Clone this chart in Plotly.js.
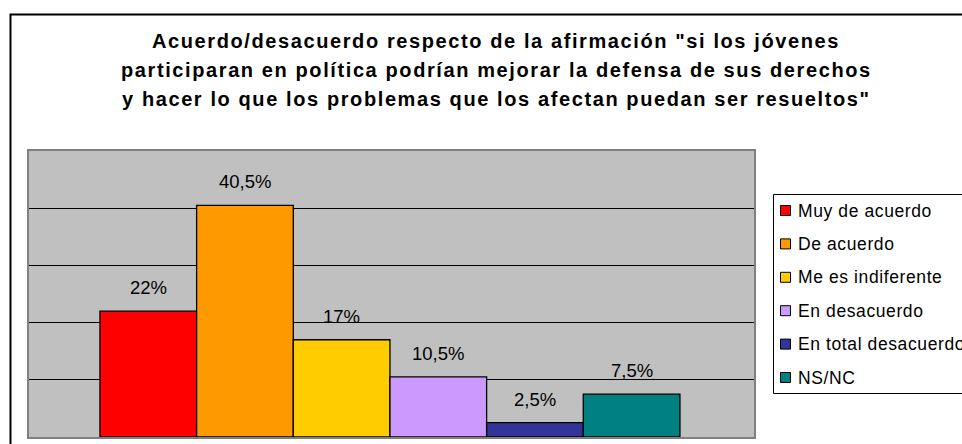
<!DOCTYPE html>
<html>
<head>
<meta charset="utf-8">
<script src="https://cdn.plot.ly/plotly-3.0.1.min.js"></script>
<style>
  html, body { margin: 0; padding: 0; overflow: hidden; background: #ffffff; }
</style>
</head>
<body>
<div id="chart" style="width:962px;height:444px"></div>
<script>
// Survey answers and their shares (%)
const titleLines = [
  'Acuerdo/desacuerdo respecto de la afirmación "si los jóvenes',
  'participaran en política podrían mejorar la defensa de sus derechos',
  'y hacer lo que los problemas que los afectan puedan ser resueltos"'
];
const categories = ['Muy de acuerdo', 'De acuerdo', 'Me es indiferente', 'En desacuerdo', 'En total desacuerdo', 'NS/NC'];
const percentages = [22, 40.5, 17, 10.5, 2.5, 7.5];
const barColors = ['#FF0000', '#FF9900', '#FFCC00', '#CC99FF', '#333399', '#008080'];
const gridValues = [10, 20, 30, 40];

// Page geometry
const FONT = 'Liberation Sans, Arial, sans-serif';
const W = 962, H = 444;
const M = { l: 29, r: 208, t: 151, b: 7 };
const plotW = W - M.l - M.r, plotH = H - M.t - M.b;
const px = x => (x - M.l) / plotW;          // pixel x -> paper x
const py = y => 1 - (y - M.t) / plotH;      // pixel y -> paper y

const fmtPct = v => String(v).replace('.', ',') + '%';

const annotations = [];
const shapes = [];

// Three-line bold heading
const titleY = [40.8, 69.8, 99.1];
titleLines.forEach((line, i) => {
  annotations.push({
    xref: 'paper', yref: 'paper', x: px(496), y: py(titleY[i]),
    xanchor: 'center', yanchor: 'middle', showarrow: false,
    text: '<span style="letter-spacing:1.6px"><b>' + line + '</b></span>',
    font: { family: FONT, size: 20, color: '#000000' }
  });
});

// Value labels above each bar
categories.forEach((c, i) => {
  annotations.push({
    xref: 'x', yref: 'y', x: c, y: percentages[i],
    yshift: 23.5, xanchor: 'center', yanchor: 'middle', showarrow: false,
    text: fmtPct(percentages[i]),
    font: { family: FONT, size: 18.5, color: '#000000' }
  });
});

// Outer chart frame
shapes.push({
  type: 'rect', xref: 'paper', yref: 'paper',
  x0: px(10.5), x1: px(1400), y0: py(14.5), y1: py(900),
  line: { color: '#000000', width: 2 }, fillcolor: 'rgba(0,0,0,0)', layer: 'above'
});

// Legend box with colour keys
const legendTop = 194.5, legendBottom = 393.5;
shapes.push({
  type: 'rect', xref: 'paper', yref: 'paper',
  x0: px(773.5), x1: px(1400), y0: py(legendTop), y1: py(legendBottom),
  line: { color: '#000000', width: 1 }, fillcolor: '#ffffff', layer: 'above'
});
categories.forEach((c, i) => {
  const cy = 210.5 + 33.4 * i;
  shapes.push({
    type: 'rect', xref: 'paper', yref: 'paper',
    x0: px(780.5), x1: px(790.5), y0: py(cy - 5), y1: py(cy + 5),
    line: { color: '#000000', width: 1 }, fillcolor: barColors[i], layer: 'above'
  });
  annotations.push({
    xref: 'paper', yref: 'paper', x: px(796), y: py(cy),
    xanchor: 'left', yanchor: 'middle', showarrow: false,
    text: '<span style="letter-spacing:0.6px">' + c + '</span>',
    font: { family: FONT, size: 17.5, color: '#000000' }
  });
});

const trace = {
  type: 'bar',
  x: categories,
  y: percentages,
  width: 1,
  marker: { color: barColors, line: { color: '#000000', width: 1.3 } },
  hoverinfo: 'none',
  showlegend: false
};

const layout = {
  width: W, height: H,
  margin: M,
  paper_bgcolor: '#ffffff',
  plot_bgcolor: '#C0C0C0',
  showlegend: false,
  bargap: 0,
  xaxis: {
    type: 'category', range: [-1.234, 6.266],
    showticklabels: false, ticks: '', showgrid: false, zeroline: false,
    showline: true, mirror: true, linecolor: '#808080', linewidth: 2
  },
  yaxis: {
    range: [0, 50], tickvals: gridValues,
    showticklabels: false, ticks: '', showgrid: true,
    gridcolor: '#000000', gridwidth: 1, zeroline: false,
    showline: true, mirror: true, linecolor: '#808080', linewidth: 2
  },
  annotations: annotations,
  shapes: shapes,
  font: { family: FONT, color: '#000000' }
};

Plotly.newPlot('chart', [trace], layout, { displayModeBar: false, staticPlot: true });
</script>
</body>
</html>
